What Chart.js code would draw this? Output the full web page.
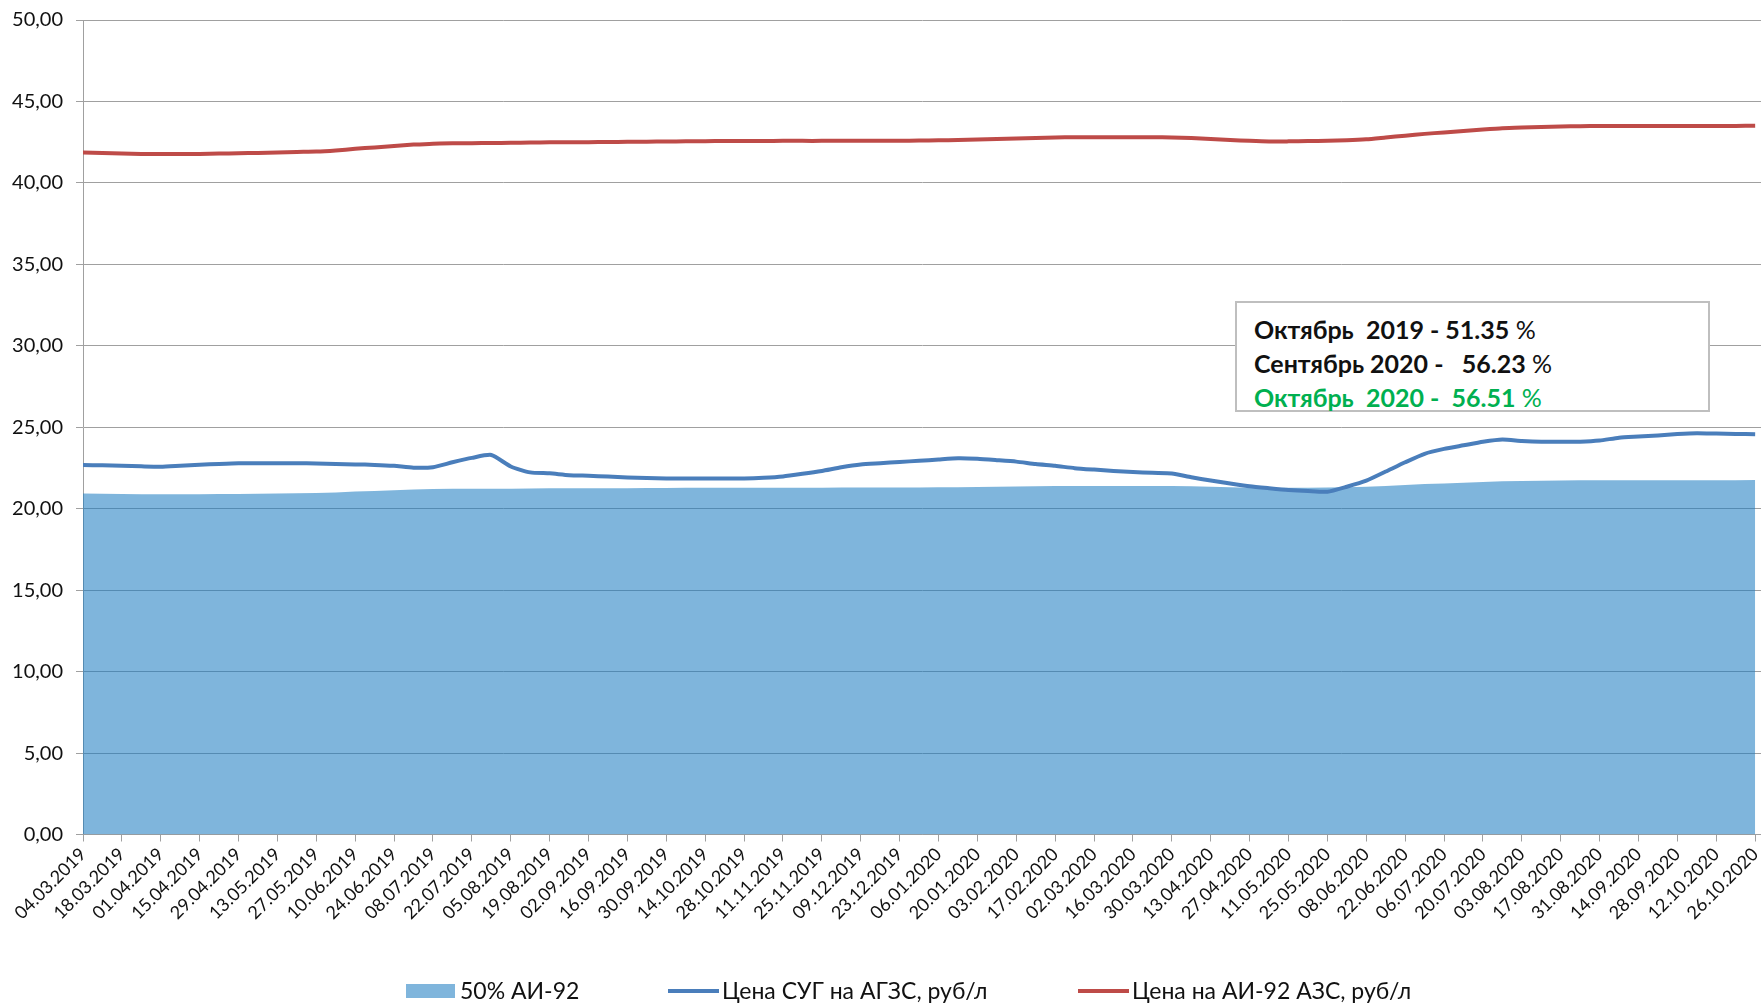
<!DOCTYPE html>
<html>
<head>
<meta charset="utf-8">
<script src="https://cdn.jsdelivr.net/npm/chart.js@4.4.0/dist/chart.umd.min.js"></script>
<style>
html,body{margin:0;padding:0;background:#fff;}
#wrap{position:relative;width:1761px;height:1006px;overflow:hidden;}
canvas{display:block;}
#note{position:absolute;left:1235px;top:301px;width:454px;height:98px;border:2px solid #BFBFBF;background:#fff;
  font-family:Lato,'Open Sans',sans-serif;font-weight:bold;font-size:25px;line-height:34px;white-space:pre;padding:9px 0 0 17px;box-sizing:content-box;color:#111;}
#note .pc{font-weight:normal;}
#note .g{color:#00B050;}
.lg{position:absolute;font-family:Lato,'Open Sans',sans-serif;font-size:23px;line-height:26px;top:977px;color:#111;white-space:pre;}
.mk{position:absolute;}
</style>
</head>
<body>
<div id="wrap">
<canvas id="c" width="1761" height="1006"></canvas>
<div id="note"><div>Октябрь  2019 - 51.35<span class="pc"> %</span></div><div>Сентябрь 2020 -   56.23<span class="pc"> %</span></div><div class="g">Октябрь  2020 -  56.51<span class="pc"> %</span></div></div>
<div class="mk" style="left:406px;top:984px;width:49px;height:14px;background:#7FB5DC;"></div>
<div class="lg" style="left:460px;">50% АИ-92</div>
<div class="mk" style="left:668px;top:989px;width:51px;height:4px;background:#4A7EBB;"></div>
<div class="lg" style="left:722px;">Цена СУГ на АГЗС, руб/л</div>
<div class="mk" style="left:1078px;top:989px;width:51px;height:4px;background:#BE4B48;"></div>
<div class="lg" style="left:1132px;">Цена на АИ-92 АЗС, руб/л</div>
</div>
<script>
// Tick labels (every two weeks)
const tickLabels = ["04.03.2019","18.03.2019","01.04.2019","15.04.2019","29.04.2019","13.05.2019","27.05.2019","10.06.2019","24.06.2019","08.07.2019","22.07.2019","05.08.2019","19.08.2019","02.09.2019","16.09.2019","30.09.2019","14.10.2019","28.10.2019","11.11.2019","25.11.2019","09.12.2019","23.12.2019","06.01.2020","20.01.2020","03.02.2020","17.02.2020","02.03.2020","16.03.2020","30.03.2020","13.04.2020","27.04.2020","11.05.2020","25.05.2020","08.06.2020","22.06.2020","06.07.2020","20.07.2020","03.08.2020","17.08.2020","31.08.2020","14.09.2020","28.09.2020","12.10.2020","26.10.2020"];

const seriesNames = ["50% АИ-92", "Цена СУГ на АГЗС, руб/л", "Цена на АИ-92 АЗС, руб/л"];

// Weekly values (week 0 = 04.03.2019 ... week 86 = 26.10.2020)
const halfAi92 = [
20.93,20.92,20.90,20.89,20.89,20.89,20.89,20.90,20.91,20.92,
20.94,20.95,20.96,21.00,21.05,21.09,21.14,21.18,21.21,21.22,
21.22,21.23,21.23,21.24,21.25,21.25,21.25,21.26,21.26,21.27,
21.27,21.28,21.28,21.29,21.29,21.29,21.29,21.29,21.29,21.30,
21.30,21.30,21.30,21.30,21.31,21.32,21.33,21.35,21.37,21.38,
21.40,21.40,21.40,21.40,21.40,21.40,21.40,21.38,21.35,21.32,
21.29,21.27,21.28,21.29,21.30,21.31,21.34,21.40,21.45,21.51,
21.55,21.60,21.64,21.68,21.70,21.72,21.73,21.74,21.75,21.75,
21.75,21.75,21.75,21.75,21.75,21.75,21.76];

const sugPrice = [
22.68,22.66,22.63,22.60,22.58,22.64,22.70,22.75,22.79,22.79,
22.79,22.79,22.78,22.75,22.72,22.69,22.63,22.52,22.55,22.85,
23.12,23.30,22.59,22.23,22.17,22.06,22.02,21.97,21.92,21.88,
21.86,21.86,21.86,21.86,21.86,21.90,21.98,22.14,22.32,22.54,
22.71,22.79,22.87,22.94,23.02,23.09,23.06,22.98,22.89,22.74,
22.63,22.49,22.40,22.32,22.26,22.20,22.16,21.93,21.73,21.55,
21.38,21.26,21.15,21.08,21.04,21.35,21.72,22.28,22.85,23.37,
23.67,23.89,24.11,24.25,24.16,24.11,24.11,24.11,24.18,24.36,
24.43,24.50,24.58,24.63,24.61,24.59,24.57];

const ai92Price = [
41.86,41.83,41.80,41.78,41.77,41.77,41.78,41.80,41.82,41.84,
41.87,41.90,41.92,41.99,42.09,42.18,42.27,42.35,42.41,42.43,
42.44,42.45,42.46,42.48,42.49,42.50,42.50,42.51,42.52,42.53,
42.54,42.55,42.56,42.57,42.57,42.57,42.58,42.58,42.58,42.59,
42.59,42.59,42.59,42.60,42.62,42.63,42.66,42.70,42.73,42.76,
42.79,42.80,42.80,42.80,42.80,42.80,42.79,42.75,42.70,42.64,
42.58,42.54,42.55,42.57,42.59,42.62,42.68,42.79,42.90,43.01,
43.10,43.19,43.28,43.36,43.40,43.43,43.46,43.48,43.49,43.49,
43.49,43.49,43.49,43.49,43.50,43.50,43.51];

const toPts = arr => arr.map((v, i) => ({x: i, y: v}));

Chart.defaults.font.family = "Lato, 'Open Sans', sans-serif";
Chart.defaults.color = '#111';

new Chart(document.getElementById('c'), {
  type: 'line',
  data: {
    datasets: [
      { label: seriesNames[0], data: toPts(halfAi92), fill: 'origin',
        backgroundColor: 'rgba(26,123,193,0.56)', borderWidth: 0, pointRadius: 0, order: 3, tension: 0 },
      { label: seriesNames[1], data: toPts(sugPrice), fill: false,
        borderColor: '#4A7EBB', borderWidth: 4, pointRadius: 0, order: 1, tension: 0.2 },
      { label: seriesNames[2], data: toPts(ai92Price), fill: false,
        borderColor: '#BE4B48', borderWidth: 4, pointRadius: 0, order: 2, tension: 0.2 }
    ]
  },
  options: {
    responsive: false,
    animation: false,
    layout: { padding: { top: 20, left: 0, right: 0, bottom: 0 } },
    plugins: { legend: { display: false }, tooltip: { enabled: false } },
    scales: {
      x: {
        type: 'linear', min: 0, max: 86.3,
        border: { display: true, color: '#A0A0A0', width: 1 },
        grid: { drawOnChartArea: false, drawTicks: true, tickLength: 7, color: '#A0A0A0' },
        ticks: {
          stepSize: 2, includeBounds: false, autoSkip: false,
          maxRotation: 45, minRotation: 45, padding: 2,
          font: { size: 18 }, color: '#111',
          callback: (v) => { const i = v / 2; return (Number.isInteger(i) && tickLabels[i]) ? tickLabels[i] : null; }
        },
        afterFit: (s) => { s.height = 171.5; s.paddingRight = 0; s.paddingLeft = 0; }
      },
      y: {
        min: 0, max: 50,
        border: { display: true, color: '#A0A0A0', width: 1 },
        grid: { color: '#A0A0A0', lineWidth: 1, tickLength: 7 },
        ticks: { stepSize: 5, padding: 13, font: { size: 20 }, color: '#111',
          callback: (v) => v.toFixed(2).replace('.', ',') },
        afterFit: (s) => { s.width = 83; s.paddingTop = 0; s.paddingBottom = 0; }
      }
    }
  }
});
</script>
</body>
</html>
